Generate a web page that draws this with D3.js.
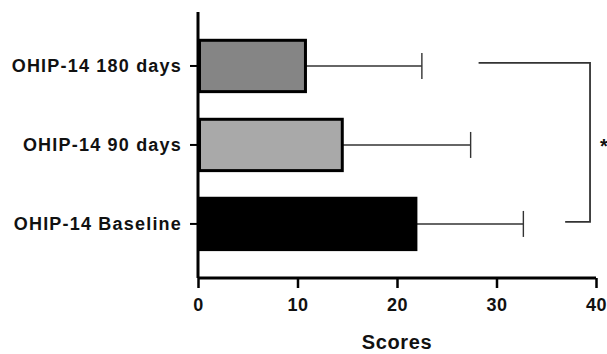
<html>
<head>
<title>OHIP-14 Scores</title>
<style>
body { margin: 0; background: #fff; }
text { font-family: "Liberation Sans", Arial, sans-serif; font-weight: bold; fill: #111; }
</style>
</head>
<body>
<div id="chart"></div>
<script src="https://cdn.jsdelivr.net/npm/d3@7"></script>
<script>
	// values
	var categories = [ "OHIP-14 180 days", "OHIP-14 90 days", "OHIP-14 Baseline" ];
	var means = [ 10.8, 14.5, 21.9 ];
	var errUpper = [ 22.5, 27.4, 32.7 ];
	var fills = [ "#858585", "#a9a9a9", "#000000" ];
	var xTicks = [ 0, 10, 20, 30, 40 ];
	var sigLabel = "*";

	var W = 607, H = 354;
	var svg = d3.select("#chart").append("svg").attr("width", W).attr("height", H);

	var x = d3.scaleLinear().domain([ 0, 40 ]).range([ 198, 596 ]);
	var y = d3.scaleBand().domain(categories).range([ 16.6, 273.3 ]).paddingInner(0.35).paddingOuter(0.3);

	// error bars (drawn first, behind bars)
	var eb = svg.append("g").attr("stroke", "#333").attr("stroke-width", 1.4);
	categories.forEach(function(c, i) {
		var cy = y(c) + y.bandwidth() / 2;
		eb.append("line").attr("x1", x(means[i])).attr("x2", x(errUpper[i]))
				.attr("y1", cy).attr("y2", cy);
		eb.append("line").attr("x1", x(errUpper[i])).attr("x2", x(errUpper[i]))
				.attr("y1", cy - 13).attr("y2", cy + 13);
	});

	// bars
	svg.append("g").selectAll("rect").data(categories).enter().append("rect")
			.attr("x", x(0) + 1.5)
			.attr("y", function(d) { return y(d); })
			.attr("width", function(d, i) { return x(means[i]) - x(0) - 1.5; })
			.attr("height", y.bandwidth())
			.attr("fill", function(d, i) { return fills[i]; })
			.attr("stroke", "#000").attr("stroke-width", 3);

	// axes
	var xAxis = svg.append("g").attr("transform", "translate(0,278)")
			.call(d3.axisBottom(x).tickValues(xTicks).tickSize(10).tickPadding(10));
	xAxis.select(".domain").attr("stroke-width", 3).attr("d", "M" + x(0) + ",0H" + x(40));
	xAxis.selectAll(".tick line").attr("stroke-width", 2.5);
	xAxis.selectAll("text").attr("font-size", 18).style("font-family", "Liberation Sans, Arial, sans-serif")
			.style("font-weight", "bold").style("letter-spacing", "0.5px").attr("fill", "#111");

	var yAxis = svg.append("g").attr("transform", "translate(" + x(0) + ",0)")
			.call(d3.axisLeft(y).tickSize(8).tickPadding(8));
	yAxis.select(".domain").attr("stroke-width", 3).attr("d", "M0,12V278");
	yAxis.selectAll(".tick line").attr("stroke-width", 2);
	yAxis.selectAll("text").attr("font-size", 18).style("font-family", "Liberation Sans, Arial, sans-serif")
			.style("font-weight", "bold").style("letter-spacing", "1.2px").attr("fill", "#111");

	svg.append("text").attr("x", x(20)).attr("y", 349).attr("text-anchor", "middle")
			.attr("font-size", 20).style("letter-spacing", "0.6px").text("Scores");

	// significance bracket between 180 days and baseline
	var yTop = y(categories[0]) + y.bandwidth() / 2 - 3;
	var yBot = y(categories[2]) + y.bandwidth() / 2 - 2;
	svg.append("path").attr("fill", "none").attr("stroke", "#333").attr("stroke-width", 1.8)
			.attr("d", "M" + x(28.2) + "," + yTop + "H" + x(39.4) + "V" + yBot + "H" + x(36.9));
	svg.append("text").attr("x", 600).attr("y", (yTop + yBot) / 2 + 11)
			.attr("font-size", 20).text(sigLabel);
</script>
</body>
</html>
